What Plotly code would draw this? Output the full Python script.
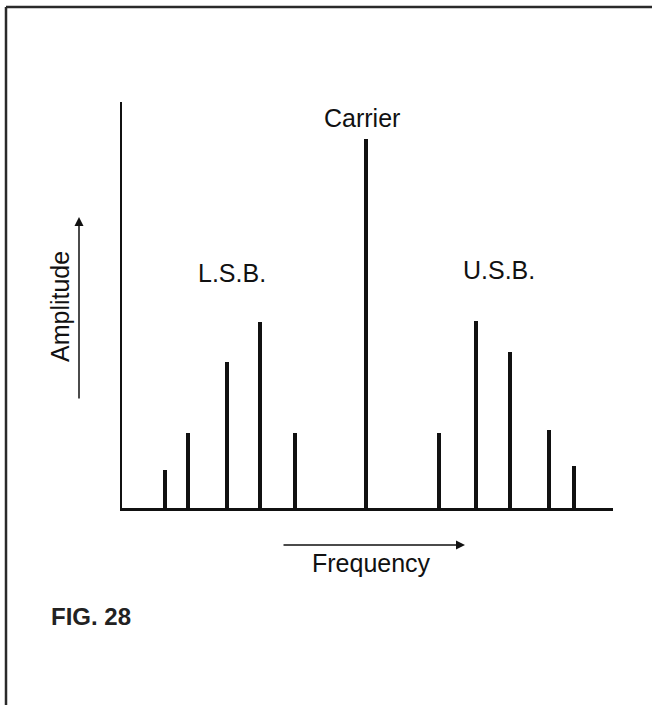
import plotly.graph_objects as go

# Spectrum components (frequency offset from axis origin, relative amplitude)
frequency = [43, 66, 105, 138, 173, 244, 317, 354, 388, 427, 452]
amplitude = [38, 75, 146, 186, 75, 369, 75, 187, 156, 78, 42]
labels = ["Carrier", "L.S.B.", "U.S.B."]

W, H = 652, 705
L, R, T, B = 122, 39, 102, 197
PW, PH = W - L - R, H - T - B

def px(x):
    return (x - L) / PW

def py(y):
    return (H - B - y) / PH

ink = "#111111"
font_main = dict(family="Liberation Sans, Arial, sans-serif", size=25, color=ink)

fig = go.Figure()
fig.add_trace(go.Bar(x=frequency, y=amplitude, width=4,
                     marker=dict(color=ink, line=dict(width=0)),
                     hoverinfo="skip"))

fig.update_layout(
    width=W, height=H,
    margin=dict(l=L, r=R, t=T, b=B, pad=0),
    paper_bgcolor="white", plot_bgcolor="white",
    showlegend=False,
    xaxis=dict(range=[0, PW], showgrid=False, zeroline=False, showticklabels=False,
               ticks="", showline=True, linecolor=ink, linewidth=3, fixedrange=True),
    yaxis=dict(range=[0, PH], showgrid=False, zeroline=False, showticklabels=False,
               ticks="", showline=True, linecolor=ink, linewidth=2.5, fixedrange=True),
)

# Outer frame: only the left and top edges are inside the picture
frame = dict(color="#2a2a2a", width=2.5)
fig.add_shape(type="line", xref="paper", yref="paper",
              x0=px(6), x1=px(6), y0=py(720), y1=py(7), line=frame)
fig.add_shape(type="line", xref="paper", yref="paper",
              x0=px(6), x1=px(665), y0=py(7), y1=py(7), line=frame)

ann = []
ann.append(dict(x=px(362), y=py(118), text=labels[0]))
ann.append(dict(x=px(232), y=py(273), text=labels[1]))
ann.append(dict(x=px(499), y=py(270), text=labels[2]))
ann.append(dict(x=px(60), y=py(307), text="Amplitude", textangle=-90))
ann.append(dict(x=px(371), y=py(563), text="Frequency"))
for a in ann:
    a.update(xref="paper", yref="paper", showarrow=False, font=font_main,
             xanchor="center", yanchor="middle")
    fig.add_annotation(**a)

fig.add_annotation(x=px(49), y=py(616), xref="paper", yref="paper", showarrow=False,
                   text="<b>FIG. 28</b>", xanchor="left", yanchor="middle",
                   font=dict(family="Liberation Sans, Arial, sans-serif", size=24, color="#222222"))

# Arrows
fig.add_annotation(x=px(79), y=py(217), xref="paper", yref="paper", text="",
                   showarrow=True, arrowhead=2, arrowsize=1.2, arrowwidth=1.5,
                   arrowcolor=ink, ax=0, ay=183)
fig.add_annotation(x=px(465), y=py(545), xref="paper", yref="paper", text="",
                   showarrow=True, arrowhead=2, arrowsize=1.2, arrowwidth=1.5,
                   arrowcolor=ink, ax=-183, ay=0)

fig.write_html("out.html", config={"displayModeBar": False, "staticPlot": True},
               post_script="document.body.style.margin='0';document.body.style.overflow='hidden';")
